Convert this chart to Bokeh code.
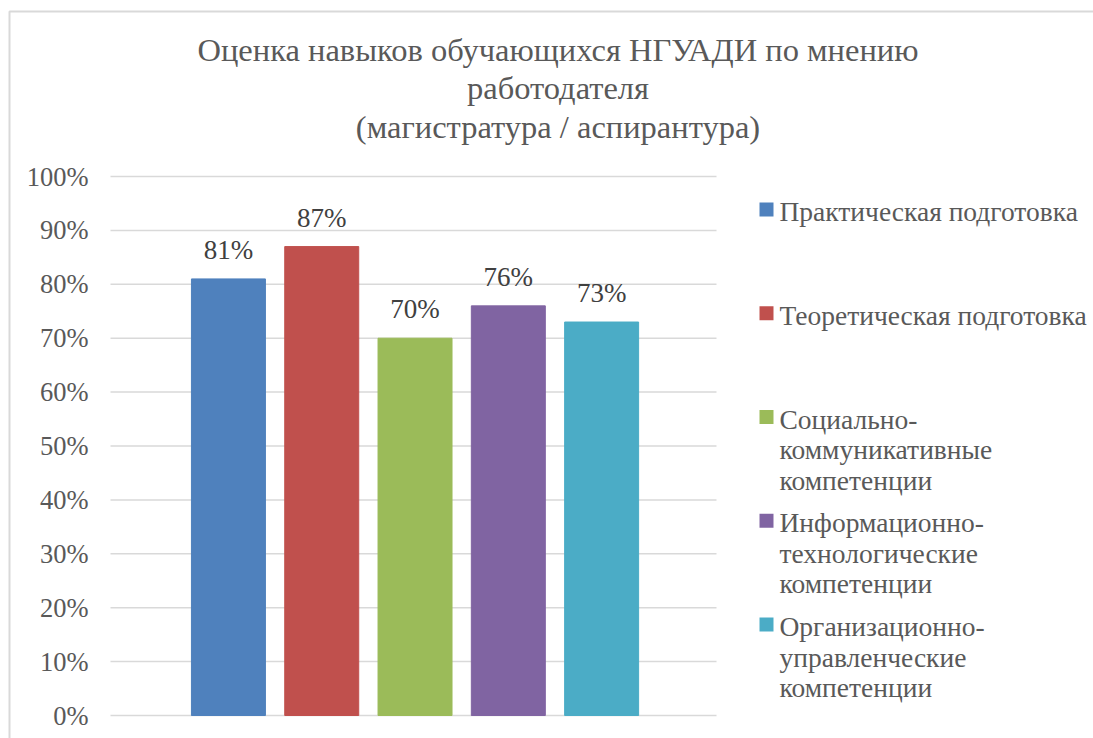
from bokeh.plotting import figure
from bokeh.models import ColumnDataSource, Range1d, FixedTicker
from bokeh.core.properties import value
from bokeh.embed import file_html
from bokeh.resources import INLINE

# ---- data ----
series = ["Практическая подготовка",
          "Теоретическая подготовка",
          "Социально-\nкоммуникативные\nкомпетенции",
          "Информационно-\nтехнологические\nкомпетенции",
          "Организационно-\nуправленческие\nкомпетенции"]
values = [81, 87, 70, 76, 73]
colors = ["#4F81BD", "#C0504D", "#9BBB59", "#8064A2", "#4BACC6"]
yticks = [0, 10, 20, 30, 40, 50, 60, 70, 80, 90, 100]
title_lines = ["Оценка навыков обучающихся НГУАДИ по мнению",
               "работодателя",
               "(магистратура / аспирантура)"]

FONT = "Liberation Serif"
GRAY = "#595959"
W, H = 1093, 738

# ---- layout geometry (page pixels -> data units) ----
PPX = 93.3          # pixels per category step
PPY = 5.39          # pixels per percent
X_AT_110 = -0.264   # data x at the plot-area left edge (page x=110)
XS = X_AT_110 - 110 / PPX
YT = 715 / PPY      # data y at page top (0% lies at page y=715)


def dx(px):
    return XS + px / PPX


def dy(py):
    return YT - py / PPY


p = figure(width=W, height=H, output_backend="svg", toolbar_location=None,
           title_location=None,
           x_range=Range1d(dx(0), dx(W)), y_range=Range1d(dy(H), dy(0)),
           min_border=0, min_border_left=0, min_border_right=0,
           min_border_top=0, min_border_bottom=0)
p.outline_line_color = None
p.background_fill_color = "white"
p.border_fill_color = "white"
p.xaxis.visible = False
p.xgrid.visible = False
p.ygrid.visible = False

# outer chart border
p.line(x=[dx(9), dx(9), dx(W + 5)], y=[dy(H + 5), dy(11), dy(11)],
       line_color="#d9d9d9", line_width=2)

# horizontal gridlines over the plot area
p.segment(x0=[dx(110)] * len(yticks), x1=[dx(716)] * len(yticks),
          y0=yticks, y1=yticks, line_color="#d9d9d9", line_width=1.5)

# bars + data labels
xs = [i + 1 for i in range(len(values))]
src = ColumnDataSource(dict(x=xs, top=values, color=colors,
                            lbl=[f"{v}%" for v in values]))
p.vbar(x="x", top="top", bottom=0, width=0.793, color="color", source=src)
p.text(x="x", y="top", text="lbl", source=src, text_align="center",
       text_baseline="alphabetic", y_offset=-29,
       text_font=value(FONT), text_font_size="27px", text_color="#404040")

# y axis inside the frame at the plot-area left edge
ya = p.yaxis[0]
ya.fixed_location = dx(110)
ya.ticker = FixedTicker(ticks=yticks)
ya.major_label_overrides = {t: f"{t}%" for t in yticks}
ya.axis_line_color = None
ya.major_tick_line_color = None
ya.minor_tick_line_color = None
ya.major_tick_out = 0
ya.major_tick_in = 0
ya.major_label_standoff = 22
ya.major_label_text_font = FONT
ya.major_label_text_font_size = "26.5px"
ya.major_label_text_color = GRAY

# title
p.text(x=[dx(557.5)] * 3, y=[dy(49 + 38.5 * i) for i in range(3)], text=title_lines,
       text_align="center", text_baseline="middle",
       text_font=value(FONT), text_font_size="32.5px", text_color=GRAY)

# legend (square + multi-line label per series)
entry_y = [211 + 103.75 * i for i in range(len(series))]
p.rect(x=[dx(766)] * len(series), y=[dy(cy - 2) for cy in entry_y],
       width=14, height=14, width_units="screen", height_units="screen",
       fill_color=colors, line_color=None)
lx, ly, lt = [], [], []
for s, cy in zip(series, entry_y):
    for j, line in enumerate(s.split("\n")):
        lx.append(dx(779))
        ly.append(dy(cy + 30.5 * j))
        lt.append(line)
p.text(x=lx, y=ly, text=lt, text_align="left", text_baseline="middle",
       text_font=value(FONT), text_font_size="27.5px", text_color=GRAY)

open("out.html", "w").write(file_html(p, INLINE))
